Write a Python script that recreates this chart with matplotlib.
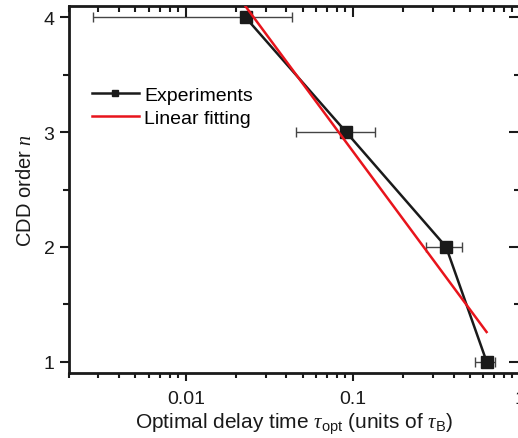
import numpy as np
import matplotlib
matplotlib.use("Agg")
import matplotlib.pyplot as plt
from matplotlib.ticker import LogLocator, FixedLocator, NullFormatter, FixedFormatter

plt.rcParams['font.family'] = ['Liberation Sans', 'DejaVu Sans']
plt.rcParams['mathtext.fontset'] = 'custom'
plt.rcParams['mathtext.rm'] = 'Liberation Sans'
plt.rcParams['mathtext.it'] = 'Liberation Serif:italic'
plt.rcParams['mathtext.bf'] = 'Liberation Sans:bold'

# CDD order and the measured optimal delay times (units of tau_B)
cdd_order = np.array([4, 3, 2, 1])
tau_opt = np.array([0.0228, 0.0912, 0.361, 0.631])
tau_low = np.array([0.00279, 0.0457, 0.273, 0.537])
tau_high = np.array([0.043, 0.136, 0.45, 0.708])

x_ticks = [0.01, 0.1, 1]
x_tick_labels = ['0.01', '0.1', '1']
y_ticks = [1, 2, 3, 4]
y_minor = [1.5, 2.5, 3.5]

# linear fit of n against log10(tau_opt)
slope, intercept = np.polyfit(np.log10(tau_opt), cdd_order, 1)
fit_x = np.logspace(np.log10(tau_opt.min()), np.log10(tau_opt.max()), 50)
fit_y = intercept + slope * np.log10(fit_x)

ink = '#1a1a1a'
fig = plt.figure(figsize=(5.18, 4.39), dpi=100)
pos = [69 / 518, 65 / 439, 451 / 518, 367 / 439]
ax = fig.add_axes(pos)

xerr = np.vstack([tau_opt - tau_low, tau_high - tau_opt])
ax.errorbar(tau_opt, cdd_order, xerr=xerr, fmt='none', ecolor='#444444',
            elinewidth=1.0, capsize=3.5, capthick=1.0, zorder=2)
ax.plot(tau_opt, cdd_order, color=ink, lw=1.8, marker='s', ms=9,
        mfc=ink, mec=ink, label='Experiments', zorder=3)
ax.plot(fit_x, fit_y, color='#e8141c', lw=1.8, label='Linear fitting', zorder=4)

ax.set_xscale('log')
ax.set_xlim(0.002, 1)
ax.set_ylim(0.9, 4.1)

ax.xaxis.set_major_locator(FixedLocator(x_ticks))
ax.xaxis.set_major_formatter(FixedFormatter(x_tick_labels))
ax.xaxis.set_minor_locator(LogLocator(base=10, subs=np.arange(2, 10), numticks=20))
ax.xaxis.set_minor_formatter(NullFormatter())
ax.yaxis.set_major_locator(FixedLocator(y_ticks))
ax.yaxis.set_minor_locator(FixedLocator(y_minor))

# bottom/left ticks point outward
ax.tick_params(which='both', direction='out', width=1.5, labelsize=14,
               colors=ink, top=False, right=False)
ax.tick_params(axis='x', which='major', length=6, pad=6)
ax.tick_params(axis='x', which='minor', length=3.5)
ax.tick_params(axis='y', which='major', length=6.5, pad=4)
ax.tick_params(axis='y', which='minor', length=4.5)

for s in ax.spines.values():
    s.set_linewidth(2)
    s.set_color(ink)

# top/right ticks point inward
ax2 = fig.add_axes(pos, sharex=ax, sharey=ax, facecolor='none')
for s in ax2.spines.values():
    s.set_visible(False)
ax2.tick_params(which='both', direction='in', width=1.5, colors=ink,
                bottom=False, left=False, top=True, right=True,
                labelbottom=False, labelleft=False)
ax2.tick_params(which='major', length=8)
ax2.tick_params(which='minor', length=4.5)

ax.set_xlabel(r'Optimal delay time $\tau_{\rm opt}$ (units of $\tau_{\rm B}$)',
              fontsize=15, labelpad=3, color=ink)
ax.set_ylabel(r'CDD order $n$', fontsize=14.5, labelpad=6, color=ink)

ax.legend(loc='upper left', bbox_to_anchor=(0.012, 0.83), frameon=False,
          fontsize=14, markerscale=0.55, handlelength=2.4,
          handletextpad=0.3, labelspacing=0.3)

fig.savefig('out.png', dpi=100)
